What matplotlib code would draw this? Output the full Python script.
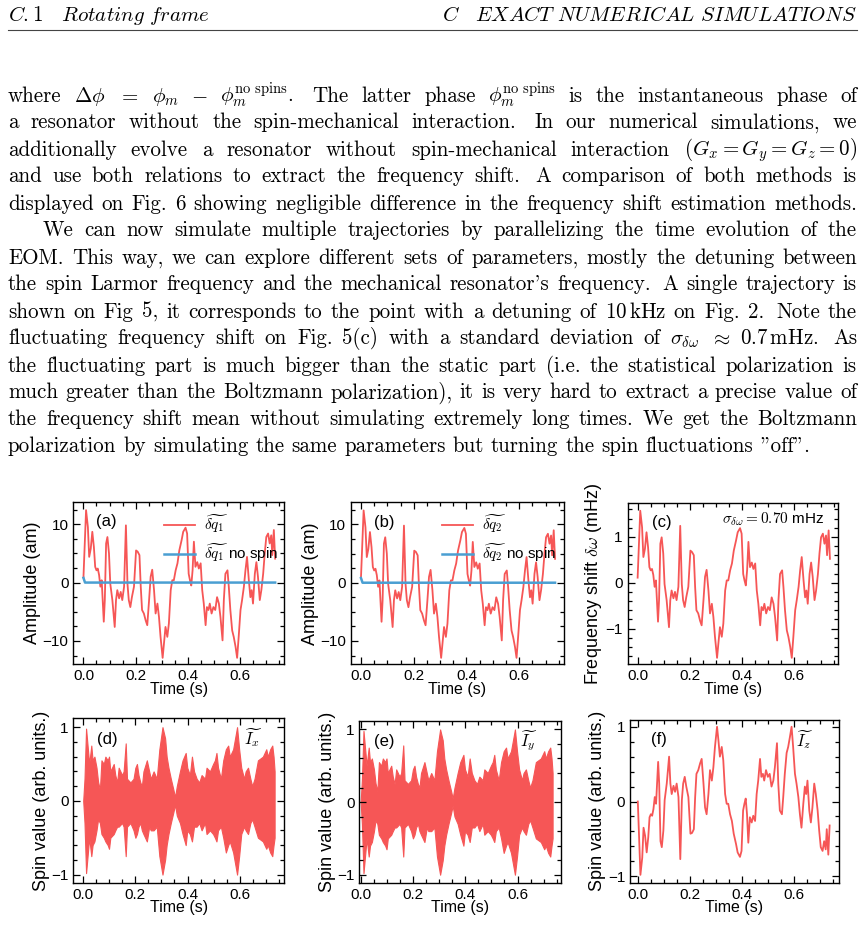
import matplotlib
matplotlib.use('Agg')
import matplotlib.pyplot as plt
from matplotlib.ticker import MultipleLocator
from matplotlib.lines import Line2D

# ---------------- data ----------------
time_s = [0.000, 0.010, 0.017, 0.022, 0.028, 0.034, 0.040, 0.045, 0.050, 0.055,
          0.060, 0.065, 0.070, 0.078, 0.082, 0.087, 0.092, 0.098, 0.103, 0.111,
          0.120, 0.125, 0.130, 0.137, 0.143, 0.149, 0.156, 0.163, 0.169, 0.174,
          0.180, 0.186, 0.194, 0.202, 0.208, 0.215, 0.220, 0.225, 0.232, 0.239,
          0.245, 0.252, 0.258, 0.264, 0.271, 0.277, 0.284, 0.290, 0.296, 0.304,
          0.309, 0.315, 0.322, 0.328, 0.335, 0.341, 0.347, 0.354, 0.361, 0.368,
          0.377, 0.383, 0.392, 0.398, 0.404, 0.409, 0.414, 0.419, 0.424, 0.430,
          0.437, 0.443, 0.450, 0.456, 0.462, 0.469, 0.474, 0.480, 0.485, 0.492,
          0.499, 0.506, 0.513, 0.520, 0.526, 0.534, 0.539, 0.545, 0.553, 0.558,
          0.564, 0.571, 0.577, 0.584, 0.590, 0.596, 0.603, 0.609, 0.616, 0.622,
          0.628, 0.635, 0.641, 0.646, 0.651, 0.658, 0.664, 0.670, 0.677, 0.683,
          0.690, 0.696, 0.702, 0.709, 0.715, 0.721, 0.725, 0.731, 0.736]

dq1 = [0.9, 12.4, 9.5, 4.4, 5.8, 8.7, 6.1, 2.7, 2.1, 2.4,
       1.3, -0.7, 0.4, -6.7, -3.0, 6.7, 7.8, 5.0, -0.2, -3.0,
       -7.6, -3.0, -1.3, -2.7, -1.6, -3.0, -0.7, 9.8, -0.2, -3.0,
       -4.2, -2.5, -0.7, 5.5, 5.3, 4.7, -0.7, -4.7, -5.3, -6.5,
       -7.3, -3.0, 1.0, 2.2, -1.3, -5.3, -3.6, -5.9, -9.3, -12.9,
       -10.5, -7.6, -9.3, -7.0, -1.3, 0.4, 0.4, 2.1, 3.3, 5.5,
       7.3, 8.7, 9.4, 8.4, 1.5, 0.4, -0.5, 2.1, 7.0, 2.7,
       3.5, 2.4, 3.3, -1.3, -3.6, -7.3, -4.2, -4.7, -3.6, -5.3,
       -4.2, -4.7, -2.5, -3.6, -5.9, -9.9, -3.0, 1.5, 2.1, -0.7,
       -4.7, -8.2, -9.3, -11.0, -12.9, -9.3, -4.7, -3.0, -0.7, 2.1,
       4.4, 0.4, -2.5, -1.3, -3.6, 1.5, 3.5, 1.0, -3.0, -1.3,
       1.5, 5.0, 7.8, 8.4, 6.7, 8.1, 4.7, 9.0, 4.1]

dq2 = [0.9, 12.4, 9.5, 4.4, 5.8, 8.7, 6.1, 2.7, 2.1, 2.4,
       1.3, -0.7, 0.4, -6.7, -3.0, 6.7, 7.8, 5.0, -0.2, -3.0,
       -7.6, -3.0, -1.3, -2.7, -1.6, -3.0, -0.7, 9.8, -0.2, -3.0,
       -4.2, -2.5, -0.7, 5.5, 5.3, 4.7, -0.7, -4.7, -5.3, -6.5,
       -7.3, -3.0, 1.0, 2.2, -1.3, -5.3, -3.6, -5.9, -9.3, -12.9,
       -10.5, -7.6, -9.3, -7.0, -1.3, 0.4, 0.4, 2.1, 3.3, 5.5,
       7.3, 8.7, 9.4, 8.4, 1.5, 0.4, -0.5, 2.1, 7.0, 2.7,
       3.5, 2.4, 3.3, -1.3, -3.6, -7.3, -4.2, -4.7, -3.6, -5.3,
       -4.2, -4.7, -2.5, -3.6, -5.9, -9.9, -3.0, 1.5, 2.1, -0.7,
       -4.7, -8.2, -9.3, -11.0, -12.9, -9.3, -4.7, -3.0, -0.7, 2.1,
       4.4, 0.4, -2.5, -1.3, -3.6, 1.5, 3.5, 1.0, -3.0, -1.3,
       1.5, 5.0, 7.8, 8.4, 6.7, 8.1, 4.7, 9.0, 4.1]

nospin_time = [0.000, 0.006, 0.736]
nospin_q = [0.8, 0.0, 0.0]

freq_shift = [0.11, 1.57, 1.21, 0.56, 0.74, 1.10, 0.77, 0.34, 0.27, 0.30,
              0.17, -0.09, 0.05, -0.85, -0.38, 0.85, 0.99, 0.64, -0.03, -0.38,
              -0.97, -0.38, -0.17, -0.34, -0.20, -0.38, -0.09, 1.24, -0.03, -0.38,
              -0.53, -0.32, -0.09, 0.70, 0.67, 0.60, -0.09, -0.60, -0.67, -0.83,
              -0.93, -0.38, 0.13, 0.28, -0.17, -0.67, -0.46, -0.75, -1.18, -1.64,
              -1.33, -0.97, -1.18, -0.89, -0.17, 0.05, 0.05, 0.27, 0.42, 0.70,
              0.93, 1.10, 1.19, 1.07, 0.19, 0.05, -0.06, 0.27, 0.89, 0.34,
              0.44, 0.30, 0.42, -0.17, -0.46, -0.93, -0.53, -0.60, -0.46, -0.67,
              -0.53, -0.60, -0.32, -0.46, -0.75, -1.26, -0.38, 0.19, 0.27, -0.09,
              -0.60, -1.04, -1.18, -1.40, -1.64, -1.18, -0.60, -0.38, -0.09, 0.27,
              0.56, 0.05, -0.32, -0.17, -0.46, 0.19, 0.44, 0.13, -0.38, -0.17,
              0.19, 0.64, 0.99, 1.07, 0.85, 1.03, 0.60, 1.14, 0.52]

Iz = [0.0, -0.98, -0.75, -0.35, -0.46, -0.68, -0.48, -0.21, -0.17, -0.19,
      -0.10, 0.06, -0.03, 0.53, 0.24, -0.53, -0.61, -0.39, 0.02, 0.24,
      0.60, 0.24, 0.10, 0.21, 0.13, 0.24, 0.06, -0.77, 0.02, 0.24,
      0.33, 0.20, 0.06, -0.43, -0.42, -0.37, 0.06, 0.37, 0.42, 0.51,
      0.57, 0.24, -0.08, -0.17, 0.10, 0.42, 0.28, 0.46, 0.73, 1.0,
      0.83, 0.60, 0.73, 0.55, 0.10, -0.03, -0.03, -0.17, -0.26, -0.43,
      -0.57, -0.68, -0.74, -0.66, -0.12, -0.03, 0.04, -0.17, -0.55, -0.21,
      -0.28, -0.19, -0.26, 0.10, 0.28, 0.57, 0.33, 0.37, 0.28, 0.42,
      0.33, 0.37, 0.20, 0.28, 0.46, 0.78, 0.24, -0.12, -0.17, 0.06,
      0.37, 0.65, 0.73, 0.87, 1.0, 0.73, 0.37, 0.24, 0.06, -0.17,
      -0.35, -0.03, 0.20, 0.10, 0.28, -0.12, -0.28, -0.08, 0.24, 0.10,
      -0.12, -0.39, -0.61, -0.66, -0.53, -0.64, -0.37, -0.71, -0.32]

env_time = [0.000, 0.005, 0.011, 0.018, 0.023, 0.031, 0.036, 0.043, 0.051, 0.057,
            0.064, 0.070, 0.079, 0.085, 0.094, 0.099, 0.104, 0.117, 0.123, 0.130,
            0.136, 0.149, 0.155, 0.163, 0.168, 0.181, 0.193, 0.200, 0.206, 0.212,
            0.219, 0.225, 0.231, 0.244, 0.253, 0.259, 0.270, 0.282, 0.292, 0.304,
            0.314, 0.320, 0.327, 0.336, 0.346, 0.352, 0.359, 0.371, 0.381, 0.393,
            0.399, 0.409, 0.417, 0.425, 0.435, 0.445, 0.454, 0.467, 0.473, 0.486,
            0.498, 0.505, 0.511, 0.517, 0.528, 0.537, 0.547, 0.556, 0.562, 0.575,
            0.590, 0.598, 0.606, 0.617, 0.623, 0.632, 0.641, 0.648, 0.657, 0.670,
            0.689, 0.702, 0.708, 0.717, 0.725, 0.730, 0.734]

Ix_upper = [0.0, 0.3, 0.98, 0.7, 0.5, 0.75, 0.55, 0.6, 0.45, 0.26,
            0.15, 0.55, 0.5, 0.6, 0.55, 0.6, 0.4, 0.5, 0.35, 0.25,
            0.45, 0.35, 0.4, 0.78, 0.3, 0.25, 0.3, 0.45, 0.5, 0.35,
            0.25, 0.2, 0.4, 0.55, 0.4, 0.3, 0.4, 0.3, 0.7, 1.0,
            0.85, 0.6, 0.45, 0.3, 0.15, 0.05, 0.2, 0.4, 0.55, 0.65,
            0.45, 0.35, 0.6, 0.4, 0.3, 0.25, 0.35, 0.3, 0.45, 0.4,
            0.5, 0.55, 0.65, 0.45, 0.3, 0.55, 0.7, 0.75, 0.6, 0.7,
            1.0, 0.7, 0.45, 0.3, 0.4, 0.45, 0.3, 0.2, 0.3, 0.55,
            0.6, 0.7, 0.6, 0.7, 0.75, 0.6, 0.4]

Ix_lower = [0.0, -0.3, -0.98, -0.7, -0.5, -0.75, -0.6, -0.55, -0.4, -0.25,
            -0.3, -0.45, -0.5, -0.55, -0.6, -0.65, -0.5, -0.45, -0.4, -0.35,
            -0.35, -0.3, -0.35, -0.75, -0.35, -0.3, -0.4, -0.5, -0.45, -0.35,
            -0.3, -0.4, -0.45, -0.55, -0.35, -0.4, -0.4, -0.35, -0.75, -1.0,
            -0.8, -0.6, -0.45, -0.3, -0.15, -0.05, -0.2, -0.3, -0.45, -0.6,
            -0.4, -0.45, -0.55, -0.35, -0.35, -0.3, -0.4, -0.3, -0.45, -0.4,
            -0.45, -0.5, -0.55, -0.4, -0.35, -0.5, -0.7, -0.6, -0.55, -0.7,
            -1.0, -0.75, -0.45, -0.35, -0.4, -0.45, -0.3, -0.25, -0.35, -0.5,
            -0.55, -0.65, -0.6, -0.7, -0.75, -0.6, -0.5]

Iy_upper = Ix_upper
Iy_lower = Ix_lower

header_left = r"$\mathit{C.1\ \ \ Rotating\ frame}$"
header_right = r"$\mathit{C\ \ \ EXACT\ NUMERICAL\ SIMULATIONS}$"

body_lines = [
    r"where $\Delta\phi$ $=$ $\phi_m$ $-$ $\phi_m^{\mathrm{no\ spins}}$.  The latter phase $\phi_m^{\mathrm{no\ spins}}$ is the instantaneous phase of",
    r"a resonator without the spin-mechanical interaction.  In our numerical simulations, we",
    r"additionally evolve a resonator without spin-mechanical interaction $(G_x = G_y = G_z = 0)$",
    r"and use both relations to extract the frequency shift.  A comparison of both methods is",
    r"displayed on Fig. 6 showing negligible difference in the frequency shift estimation methods.",
    r"We can now simulate multiple trajectories by parallelizing the time evolution of the",
    r"EOM. This way, we can explore different sets of parameters, mostly the detuning between",
    r"the spin Larmor frequency and the mechanical resonator's frequency.  A single trajectory is",
    r"shown on Fig 5, it corresponds to the point with a detuning of $10\,$kHz on Fig. 2.  Note the",
    r"fluctuating frequency shift on Fig. 5(c) with a standard deviation of $\sigma_{\delta\omega}$ $\approx$ $0.7\,$mHz.  As",
    r"the fluctuating part is much bigger than the static part (i.e. the statistical polarization is",
    r"much greater than the Boltzmann polarization), it is very hard to extract a precise value of",
    r"the frequency shift mean without simulating extremely long times. We get the Boltzmann",
    r'polarization by simulating the same parameters but turning the spin fluctuations "off".',
]

# ---------------- style ----------------
plt.rcParams['mathtext.fontset'] = 'cm'
plt.rcParams['font.family'] = ['Liberation Sans', 'DejaVu Sans']
RED = '#f65656'
BLUE = '#4a9fd2'

W, H = 864, 925
fig = plt.figure(figsize=(W / 100, H / 100), dpi=100)
renderer = fig.canvas.get_renderer()

BODY_FONT = ['cmr10', 'DejaVu Serif']
FS = 15.1


def fy(y):
    return 1 - y / H


def split_words(line):
    """Split on spaces outside $...$; return words and gap weights."""
    words, weights = [], []
    cur, inmath, nsp = '', False, 0
    for ch in line.strip():
        if ch == '$':
            inmath = not inmath
        if ch == ' ' and not inmath:
            nsp += 1
            continue
        if nsp:
            if cur:
                words.append(cur)
                weights.append(1.0 if nsp == 1 else 1.45)
                cur = ''
            nsp = 0
        cur += ch
    if cur:
        words.append(cur)
    return words, weights


def place_line(line, y, x0, x1, justify=True):
    words, weights = split_words(line)
    texts = [fig.text(0, fy(y), w, fontsize=FS, family=BODY_FONT,
                      va='baseline', ha='left') for w in words]
    widths = [t.get_window_extent(renderer).width for t in texts]
    if justify and weights:
        unit = (x1 - x0 - sum(widths)) / sum(weights)
    else:
        unit = FS * 100 / 72 * 0.333
    x = x0
    for i, t in enumerate(texts):
        t.set_x(x / W)
        x += widths[i]
        if i < len(weights):
            x += unit * weights[i]


# header
fig.text(8 / W, fy(21), header_left, fontsize=FS, va='baseline', ha='left')
fig.text(857 / W, fy(21), header_right, fontsize=FS, va='baseline', ha='right')
fig.add_artist(Line2D([8 / W, 857 / W], [fy(30), fy(30)], color='#444444', lw=0.8))

# body text
base0, step = 101.5, 27.0
for k, line in enumerate(body_lines):
    y = base0 + step * k
    x0 = 43 if k == 5 else 8
    place_line(line, y, x0, 857, justify=(k != len(body_lines) - 1))

TICK_FS = 11
XLAB_FS = 11.5
YLAB_FS = 13


# ---------------- axes ----------------
def make_ax(l, t, r, b):
    return fig.add_axes([l / W, 1 - b / H, (r - l) / W, (b - t) / H])


def style(ax, ymaj, ymin):
    ax.xaxis.set_major_locator(MultipleLocator(0.2))
    ax.xaxis.set_minor_locator(MultipleLocator(0.05))
    ax.yaxis.set_major_locator(MultipleLocator(ymaj))
    ax.yaxis.set_minor_locator(MultipleLocator(ymin))
    ax.tick_params(which='both', direction='in', top=True, right=True,
                   labelsize=TICK_FS, width=0.9)
    ax.tick_params(which='major', length=5)
    ax.tick_params(which='minor', length=3)
    for s in ax.spines.values():
        s.set_linewidth(1.0)
    ax.set_xlabel('Time (s)', fontsize=XLAB_FS, labelpad=-1)


axa = make_ax(73.3, 502, 284, 664.3)
axb = make_ax(350.7, 502.3, 564, 664.3)
axc = make_ax(627.7, 502.7, 838.3, 664.3)
axd = make_ax(73.3, 718.3, 284, 882.7)
axe = make_ax(359.3, 720.7, 560.7, 882.7)
axf = make_ax(630, 720, 839, 882.7)

for ax, q, lab, plab in [(axa, dq1, r'$\widetilde{\delta q_1}$', '(a)'),
                          (axb, dq2, r'$\widetilde{\delta q_2}$', '(b)')]:
    ax.plot(time_s, q, color=RED, lw=1.3, label=lab)
    ax.plot(nospin_time, nospin_q, color=BLUE, lw=1.8, label=lab + ' no spin')
    ax.set_xlim(-0.039, 0.77)
    ax.set_ylim(-14.0, 13.8)
    style(ax, 10, 2.5)
    ax.set_ylabel('Amplitude (am)', fontsize=YLAB_FS, labelpad=1)
    ax.legend(loc='upper left', bbox_to_anchor=(0.38, 1.0), frameon=False,
              fontsize=11, handlelength=2.0, handletextpad=0.6,
              labelspacing=0.45, borderaxespad=0.3)
    ax.text(0.11, 0.877, plab, transform=ax.transAxes, fontsize=12,
            va='center', ha='left')

axc.plot(time_s, freq_shift, color=RED, lw=1.3)
axc.set_xlim(-0.038, 0.768)
axc.set_ylim(-1.78, 1.745)
style(axc, 1, 0.2)
axc.set_ylabel(r'Frequency shift $\delta\omega$ (mHz)', fontsize=YLAB_FS, labelpad=1)
axc.text(0.117, 0.877, '(c)', transform=axc.transAxes, fontsize=12, va='center', ha='left')
axc.text(0.935, 0.874, r'$\sigma_{\delta\omega} = 0.70$ mHz', transform=axc.transAxes,
         fontsize=11, va='baseline', ha='right')

for ax, up, lo, plab, name, xl, px, nx in [
        (axd, Ix_upper, Ix_lower, '(d)', r'$\widetilde{I_x}$', (-0.038, 0.77), 0.111, 0.853),
        (axe, Iy_upper, Iy_lower, '(e)', r'$\widetilde{I_y}$', (-0.005, 0.765), 0.073, 0.843)]:
    ax.fill_between(env_time, lo, up, color=RED, lw=0.8, edgecolor=RED)
    ax.set_xlim(*xl)
    ax.set_ylim(-1.11, 1.12)
    style(ax, 1, 0.2)
    ax.set_ylabel('Spin value (arb. units.)', fontsize=YLAB_FS, labelpad=1)
    ax.text(px, 0.872, plab, transform=ax.transAxes, fontsize=12, va='center', ha='left')
    ax.text(nx, 0.88, name, transform=ax.transAxes, fontsize=12, va='center', ha='center')

axf.plot(time_s, Iz, color=RED, lw=1.3)
axf.set_xlim(-0.03, 0.772)
axf.set_ylim(-1.085, 1.09)
style(axf, 1, 0.2)
axf.set_ylabel('Spin value (arb. units.)', fontsize=YLAB_FS, labelpad=1)
axf.text(0.1, 0.88, '(f)', transform=axf.transAxes, fontsize=12, va='center', ha='left')
axf.text(0.837, 0.88, r'$\widetilde{I_z}$', transform=axf.transAxes, fontsize=12,
         va='center', ha='center')

fig.savefig('out.png', dpi=100)
